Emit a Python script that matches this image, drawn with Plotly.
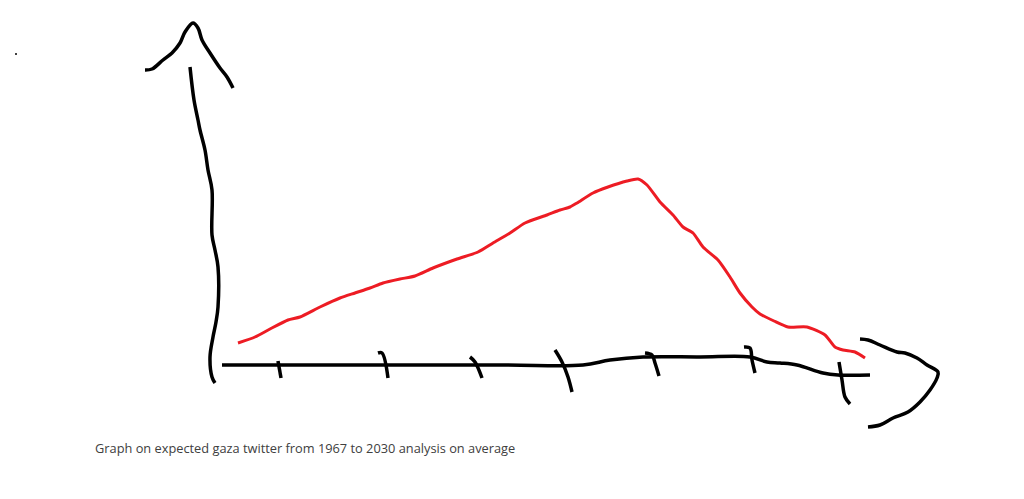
import plotly.graph_objects as go

# Red curve (in picture units: x right, y down)
curve_x = [238, 255, 270, 288, 300, 320, 340, 355, 370, 383, 400, 415, 433, 457, 478, 493, 510, 525,
           547, 560, 570, 577, 593, 608, 627, 638, 647, 660, 673, 683, 693, 703, 718, 730, 740,
           752, 760, 774, 788, 807, 825, 835, 843, 855, 865]
curve_y = [343, 337, 329, 320, 317, 307, 298, 293, 288, 283, 279, 276, 268, 259, 252, 243, 233, 223,
           215, 210, 207, 203, 193, 187, 181, 179, 185, 202, 215, 227, 233, 247, 260, 277, 293,
           307, 314, 321, 327, 327, 335, 347, 350, 352, 358]

# Hand-drawn y axis
yaxis_x = [190, 194, 198, 200, 205, 208, 212, 212, 215, 218, 218, 216, 213, 210, 212, 215]
yaxis_y = [67, 100, 120, 130, 150, 170, 190, 235, 250, 267, 307, 322, 337, 357, 377, 383]
yarrow_x = [145, 152, 163, 172, 180, 185, 193, 198, 202, 210, 220, 227, 233]
yarrow_y = [70, 69, 60, 53, 43, 32, 23, 28, 40, 53, 68, 77, 88]

# Hand-drawn x axis
xaxis_x = [222, 500, 583, 610, 643, 700, 750, 767, 780, 797, 823, 838, 870]
xaxis_y = [365, 365, 365, 360, 357, 357, 357, 362, 363, 365, 373, 375, 375]
xarrow_x = [860, 868, 880, 897, 905, 917, 927, 938, 937, 930, 920, 908, 893, 880, 868]
xarrow_y = [339, 340, 345, 352, 353, 358, 365, 372, 378, 390, 402, 412, 418, 425, 427]

# Tick marks along the x axis
ticks_x = [[278, 281],
           [378, 382, 388],
           [470, 475, 482],
           [555, 562, 568, 572],
           [645, 652, 655, 659],
           [744, 750, 752, 755],
           [839, 842, 845, 850]]
ticks_y = [[361, 378],
           [353, 353, 378],
           [357, 362, 378],
           [350, 362, 377, 392],
           [353, 355, 363, 376],
           [347, 348, 360, 373],
           [362, 380, 397, 404]]

caption = "Graph on expected gaza twitter from 1967 to 2030 analysis on average"

ink = dict(color="black", width=3.5)
fig = go.Figure()

fig.add_trace(go.Scatter(x=yaxis_x, y=yaxis_y, mode="lines", line=dict(ink, shape="spline")))
fig.add_trace(go.Scatter(x=yarrow_x, y=yarrow_y, mode="lines", line=dict(ink, shape="spline")))
fig.add_trace(go.Scatter(x=xaxis_x, y=xaxis_y, mode="lines", line=dict(ink, shape="spline")))
fig.add_trace(go.Scatter(x=xarrow_x, y=xarrow_y, mode="lines", line=dict(ink, shape="spline")))
for tx, ty in zip(ticks_x, ticks_y):
    fig.add_trace(go.Scatter(x=tx, y=ty, mode="lines", line=dict(ink, shape="spline")))

fig.add_trace(go.Scatter(x=curve_x, y=curve_y, mode="lines",
                         line=dict(color="#ED1C24", width=3, shape="spline", smoothing=0.6)))

# stray dot in the corner
fig.add_trace(go.Scatter(x=[16], y=[54], mode="markers",
                         marker=dict(color="black", size=2)))

fig.add_annotation(x=93, y=448, xref="x", yref="y", text=caption, showarrow=False,
                   xanchor="left", yanchor="middle",
                   font=dict(family="Open Sans", size=12.8, color="#404040"))

fig.update_layout(
    width=1024, height=499,
    margin=dict(l=0, r=0, t=0, b=0),
    paper_bgcolor="white", plot_bgcolor="white",
    showlegend=False,
    xaxis=dict(range=[0, 1024], visible=False, fixedrange=True),
    yaxis=dict(range=[499, 0], visible=False, fixedrange=True),
)

# drop the default page margin so the sketch lines up with the window
fig.write_html("out.html", config={"displayModeBar": False},
               post_script="document.body.style.margin='0';")
